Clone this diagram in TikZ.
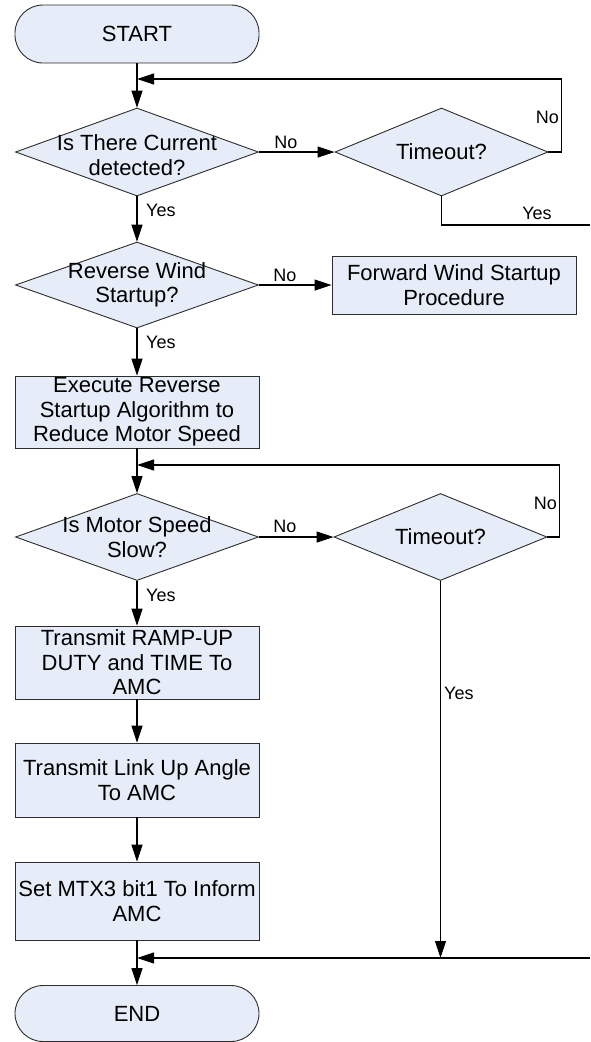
\documentclass[tikz,border=0pt]{standalone}
\usepackage{fontspec}
\setmainfont{Liberation Sans}
\usetikzlibrary{arrows.meta,shapes.geometric}
\definecolor{boxfill}{RGB}{231,237,248}
\definecolor{edgegray}{RGB}{45,45,45}

\begin{document}
\begin{tikzpicture}[x=1pt,y=-1pt,
  base/.style={draw=edgegray, fill=boxfill, line width=0.9pt,
    font=\fontsize{22}{24.5}\selectfont, align=center, inner sep=0pt},
  term/.style={base, rectangle, rounded corners=28pt,
    minimum width=244pt, minimum height=58pt},
  proc/.style={base, rectangle, minimum width=244pt},
  dec/.style={base, diamond, inner sep=0pt},
  dtext/.style={font=\fontsize{22}{24.5}\selectfont, align=center, inner sep=0pt},
  lab/.style={font=\fontsize{18}{20}\selectfont, inner sep=0pt},
  line/.style={draw=black, line width=1.1pt},
  flow/.style={line, -{Triangle[length=17pt,width=11pt]}}
]
\useasboundingbox (0,0) rectangle (590,1042);
\fill[white] (0,0) rectangle (590,1042);

% left column
\node[term] (start) at (137,34) {START};
\node[dec, minimum width=243pt, minimum height=88pt,
  label={[dtext,yshift=-3pt]center:Is There Current\\detected?}] (d1) at (137,152) {};
\node[dec, minimum width=213pt, minimum height=88pt,
  label={[dtext]center:Timeout?}] (t1) at (441.5,152) {};
\node[dec, minimum width=243pt, minimum height=86pt,
  label={[dtext]center:Reverse Wind\\Startup?}] (d2) at (137,285) {};
\node[proc, minimum height=58pt] (fwd) at (454,285) {Forward Wind Startup\\Procedure};
\node[proc, minimum height=72pt] (exec) at (137,412)
  {Execute Reverse\\Startup Algorithm to\\Reduce Motor Speed};
\node[dec, minimum width=243pt, minimum height=87pt,
  label={[dtext]center:Is Motor Speed\\Slow?}] (d3) at (137,537) {};
\node[dec, minimum width=213pt, minimum height=87pt,
  label={[dtext]center:Timeout?}] (t2) at (440.5,537) {};
\node[proc, minimum height=73pt] (ramp) at (137,662.5)
  {Transmit RAMP-UP\\DUTY and TIME To\\AMC};
\node[proc, minimum height=74pt] (link) at (137,780)
  {Transmit Link Up Angle\\To AMC};
\node[proc, minimum height=78pt] (mtx) at (137,901)
  {Set MTX3 bit1 To Inform\\AMC};
\node[term, minimum height=56pt] (end) at (137,1013.5) {END};

% junction points
\coordinate (j1) at (137,79);
\coordinate (j2) at (137,465);
\coordinate (m) at (137,958);
\coordinate (exit1) at (590,225);
\coordinate (entry2) at (590,958);

% connectors
\draw[flow] (start) -- (d1);
\draw[flow] (d1) -- (t1);
\draw[flow] (t1.east) -- ++(13,0) |- (j1);
\draw[line] (t1.south) |- (exit1);
\draw[flow] (d1) -- (d2);
\draw[flow] (d2) -- (fwd);
\draw[flow] (d2) -- (exec);
\draw[flow] (exec) -- (d3);
\draw[flow] (d3) -- (t2);
\draw[flow] (t2.east) -- ++(12,0) |- (j2);
\draw[flow] (t2.south) -- (t2.south |- m);
\draw[flow] (entry2) -- (m);
\draw[flow] (d3) -- (ramp);
\draw[flow] (ramp) -- (link);
\draw[flow] (link) -- (mtx);
\draw[flow] (mtx) -- (end);

% branch labels
\node[lab] (n1) at (286,142) {No};
\node[lab, anchor=west] (y1) at (146,210) {Yes};
\node[lab, anchor=east] (n1b) at (559,117) {No};
\node[lab] (y1b) at (537,213) {Yes};
\node[lab] (n2) at (285,275) {No};
\node[lab, anchor=west] (y2) at (146,342) {Yes};
\node[lab] (n3) at (285,526) {No};
\node[lab, anchor=west] (y3) at (146,595) {Yes};
\node[lab, anchor=east] (n3b) at (557,503) {No};
\node[lab, anchor=west] (y3b) at (444,693) {Yes};
\end{tikzpicture}
\end{document}
